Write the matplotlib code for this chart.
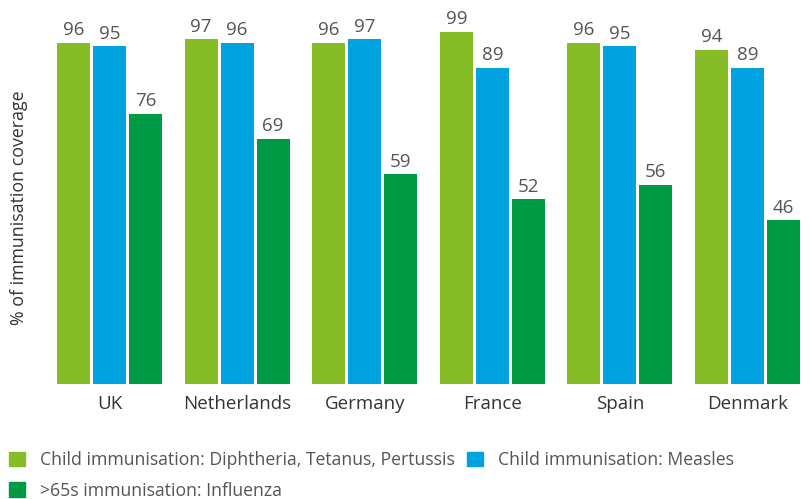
import numpy as np
import matplotlib
matplotlib.use('Agg')
from matplotlib import pyplot as plt
from matplotlib.patches import Patch

countries = ['UK', 'Netherlands', 'Germany', 'France', 'Spain', 'Denmark']
dtp = [96, 97, 96, 99, 96, 94]
measles = [95, 96, 97, 89, 95, 89]
flu = [76, 69, 59, 52, 56, 46]

series_names = ['Child immunisation: Diphtheria, Tetanus, Pertussis',
                'Child immunisation: Measles',
                '>65s immunisation: Influenza']
colors = ['#86bc25', '#00a3e0', '#009a44']

plt.rcParams['font.family'] = ['Open Sans', 'DejaVu Sans']

fig = plt.figure(figsize=(8.1, 4.99), dpi=100)
ax = fig.add_axes([0.069, 0.2305, 0.92, 0.7695])

x = np.arange(len(countries))
off = 0.282
w = 0.259
handles = []
for i, (vals, c) in enumerate(zip([dtp, measles, flu], colors)):
    pos = x + (i - 1) * off
    ax.bar(pos, vals, width=w, color=c)
    handles.append(Patch(color=c, label=series_names[i]))
    for p, v in zip(pos, vals):
        ax.text(p, v + 1.0, str(v), ha='center', va='bottom', fontsize=13.5, color='#555555')

ax.set_xlim(-0.42, 5.42)
ax.set_ylim(0, 108)
ax.set_xticks(x)
ax.set_xticklabels(countries, fontsize=13.5, color='#333333')
ax.tick_params(axis='x', length=0, pad=8)
ax.set_yticks([])
for s in ax.spines.values():
    s.set_visible(False)
ax.set_ylabel('% of immunisation coverage', fontsize=12.8, color='#333333')
ax.yaxis.set_label_coords(-0.037, 0.46)

fig.legend([handles[0], handles[2], handles[1]],
           [series_names[0], series_names[2], series_names[1]],
           ncol=2, loc='lower left', bbox_to_anchor=(4 / 810, -6 / 499),
           frameon=False, handlelength=0.9, handleheight=0.9,
           handletextpad=0.85, columnspacing=0.68, labelspacing=0.72,
           prop={'size': 12.7}, labelcolor='#555555',
           borderaxespad=0.0, borderpad=0.3)

fig.savefig('out.png', dpi=100)
